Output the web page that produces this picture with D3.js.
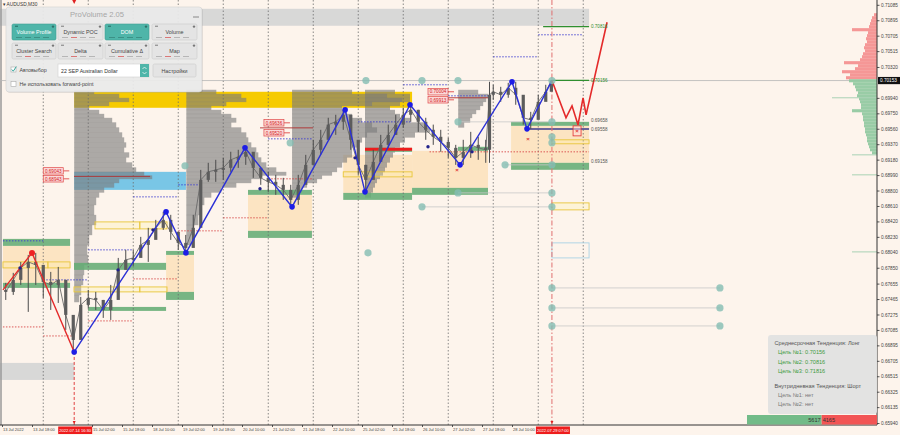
<!DOCTYPE html>
<html><head><meta charset="utf-8">
<script src="https://cdn.jsdelivr.net/npm/d3@7"></script>
<style>
html,body{margin:0;padding:0;background:#FDF4EC;}
svg{display:block;font-family:"Liberation Sans","DejaVu Sans",Arial,sans-serif;}
</style></head><body>
<svg id="c" width="900" height="435"></svg>
<script>
// ================= DATA =================
const symbolTitle = "AUDUSD,M30";
// price bars (hours of trading time since 14 Jul 00:00)
const barHours = [-20,-16,-12,-8,-4,0,4,8,12,16,20,24,28,32,36,40,44,48,52,56,60,64,68,72,76,80,84,88,92,96,100,104,108,112,116,120,124,128,132,136,140,144,148,152,156,160,164,168,172,176,180,184,188,192,196,200,204,208,212,216,220,224,228,232,236,238,240,244,248,252,256,260,264,268,271];
const barClose = [0.67553,0.67701,0.67848,0.67922,0.67885,0.67676,0.67639,0.67701,0.67270,0.66962,0.67393,0.67479,0.67454,0.67331,0.67454,0.67824,0.67947,0.67971,0.68131,0.68193,0.68341,0.68439,0.68291,0.68156,0.68094,0.68341,0.68931,0.69030,0.69054,0.69079,0.69178,0.69215,0.69277,0.69079,0.68956,0.68907,0.68870,0.68808,0.68685,0.68870,0.69116,0.69301,0.69424,0.69611,0.69646,0.69732,0.69424,0.69116,0.68931,0.69153,0.69362,0.69485,0.69611,0.69732,0.69793,0.69646,0.69547,0.69461,0.69398,0.69325,0.69202,0.69276,0.69362,0.69325,0.69301,0.69978,0.70015,0.69978,0.70064,0.69978,0.69695,0.69670,0.69891,0.70015,0.70153];
const barHigh = [0.67664,0.67787,0.67922,0.68008,0.68033,0.67885,0.67799,0.67860,0.67516,0.67233,0.67491,0.67577,0.67553,0.67454,0.67639,0.67971,0.68070,0.68070,0.68230,0.68341,0.68439,0.68538,0.68501,0.68291,0.68254,0.68501,0.69054,0.69141,0.69178,0.69202,0.69277,0.69301,0.69325,0.69239,0.69079,0.69030,0.68993,0.68956,0.68870,0.68993,0.69239,0.69424,0.69547,0.69695,0.69732,0.69793,0.69670,0.69301,0.69116,0.69301,0.69485,0.69611,0.69732,0.69818,0.69855,0.69793,0.69695,0.69611,0.69547,0.69448,0.69362,0.69424,0.69522,0.69461,0.69424,0.70138,0.70101,0.70076,0.70125,0.70138,0.69916,0.69768,0.69978,0.70101,0.70162];
const barLow = [0.67454,0.67516,0.67639,0.67307,0.67639,0.67479,0.67331,0.67417,0.67085,0.66814,0.67024,0.67356,0.67331,0.67233,0.67208,0.67540,0.67848,0.67873,0.68008,0.67922,0.68217,0.68316,0.68193,0.68070,0.68033,0.68131,0.68562,0.68907,0.68907,0.68931,0.69030,0.69079,0.69116,0.68956,0.68870,0.68784,0.68747,0.68685,0.68599,0.68624,0.68907,0.69116,0.69239,0.69424,0.69485,0.69547,0.69301,0.68993,0.68784,0.68956,0.69178,0.69325,0.69485,0.69571,0.69646,0.69522,0.69424,0.69362,0.69277,0.69202,0.69116,0.69116,0.69202,0.69178,0.69141,0.69141,0.69916,0.69891,0.69941,0.69855,0.69611,0.69559,0.69695,0.69916,0.70064];
const firstOpen = 0.67577;
const currentPrice = 0.70153;

// axis ticks
const yTickValues = [0.71085,0.70895,0.70705,0.70515,0.70320,0.69940,0.69750,0.69560,0.69370,0.69180,0.68990,0.68800,0.68610,0.68420,0.68230,0.68040,0.67850,0.67655,0.67465,0.67275,0.67085,0.66895,0.66705,0.66515,0.66325,0.66135,0.65940];
const xTickHours = [-22,-6,26,42,58,74,90,106,122,138,154,170,186,202,218,234,250];
const xTickLabels = ["13 Jul 2022","13 Jul 18:00","15 Jul 02:00","15 Jul 18:00","18 Jul 10:00","19 Jul 02:00","19 Jul 18:00","20 Jul 10:00","21 Jul 02:00","21 Jul 18:00","22 Jul 10:00","25 Jul 02:00","25 Jul 18:00","26 Jul 10:00","27 Jul 02:00","27 Jul 18:00","28 Jul 10:00"];
const timeMarkHours = [16.5, 271.3];
const timeMarkLabels = ["2022.07.14 16:30","2022.07.29 07:00"];
const sessionStarts = [0,24,48,72,96,120,144,168,192,216,240,264,288];

// volume profiles
const profileLevels = [0.70015,0.69965,0.69916,0.69867,0.69818,0.69768,0.69719,0.69670,0.69608,0.69547,0.69485,0.69424,0.69362,0.69301,0.69239,0.69178,0.69116,0.69055,0.69005,0.68968,0.68919,0.68870,0.68808,0.68747,0.68685,0.68562,0.68439,0.68316,0.68193,0.68070,0.67947,0.67824,0.67701,0.67577,0.67454];
const profileStarts = [16.5, 76.3, 132.7, 171.6, 221.3];
const profileVolA = [20,45,55,35,15,25,30,38,42,45,48,50,52,50,55,52,58,62,70,78,45,40,30,25,22,20,22,18,15,13,14,10,9,7,5];
const profileVolB = [30,55,60,40,25,35,45,50,45,55,60,62,65,70,72,75,80,90,100,75,65,50,35,25,18,14,12,8,5,0,0,0,0,0,0];
const profileVolC = [60,95,110,80,50,55,60,70,80,85,75,70,65,60,60,55,50,45,40,30,25,15,10,5,0,0,0,0,0,0,0,0,0,0,0];
const profileVolD = [30,45,45,35,25,30,35,45,60,65,50,40,35,30,28,25,22,20,18,15,12,10,8,6,0,0,0,0,0,0,0,0,0,0,0];
const profileVolE = [20,30,28,25,22,18,14,12,6,0,0,0,0,0,0,0,0,0,0,0,0,0,0,0,0,0,0,0,0,0,0,0,0,0,0];

// zones [h1, h2, priceA, priceB]
const grayBands = [[-23.07,291.1,0.71036,0.70827],[-23.07,16.5,0.66679,0.66470]];
const orangeZones = [[-21.5,14.3,0.68119,0.67664],[65.5,80.4,0.68008,0.67553],[109.2,143.3,0.68747,0.68304],[160,196.7,0.69239,0.68771],[196.7,237.2,0.69288,0.68833],[249.5,291.1,0.69596,0.69141]];
const pocBands = [[16.5,196.7,0.70015,0.69818]];
const valueAreaBands = [[16.5,76.1,0.69030,0.68808]];
const greenBands = [[-21.5,14.3,0.68205,0.68119],[-21.5,14.3,0.67664,0.67602],[16.4,65.5,0.67910,0.67824],[23.9,65.5,0.67368,0.67319],[65.5,80.4,0.68057,0.68008],[65.5,80.4,0.67553,0.67454],[109.2,143.3,0.68808,0.68747],[109.2,143.3,0.68304,0.68217],[160,196.7,0.68771,0.68685],[171.6,196.7,0.69325,0.69276],[196.7,237.2,0.68833,0.68747],[221.2,237.2,0.69338,0.69288],[249.5,291.1,0.69645,0.69596],[249.5,291.1,0.69141,0.69055]];
const yellowBoxes = [[-21.5,2.5,0.67922,0.67848],[2.5,14.3,0.67922,0.67848],[16.4,51.5,0.67614,0.67553],[51.5,66,0.67614,0.67553],[27.6,51.5,0.68414,0.68328],[51.5,66,0.68414,0.68328],[160,196.7,0.69030,0.68968],[271.3,291.1,0.69424,0.69375],[271.3,291.1,0.68648,0.68562]];
const blueBoxes = [[271.3,291.1,0.68156,0.67971]];

// horizontal lines [h1, h2, price]
const blueDotted = [[-21.5,0,0.68181],[0,24,0.67701],[24,48,0.68070],[48,72,0.68722],[72,83.6,0.68870],[119.9,143.3,0.69436],[167.9,196.7,0.69645],[192,216,0.70101],[216,237.2,0.69965],[240,264,0.70445],[264,288,0.70716]];
const redDotted = [[-21.5,0,0.67122],[0,16.4,0.67011],[24,48,0.67196],[48,72,0.67713],[72,96,0.68304],[96,120,0.68464],[120,144,0.68944],[206,291.1,0.69276]];
const redSolid = [[16.4,57,0.68974],[115.6,143.9,0.69571],[215.3,237.2,0.69941]];
const redThick = [[171.6,196.7,0.69307]];
const navyLines = [[258,291.1,0.69558]];
const targetLines = [[266.6,291.1,0.70816],[271.3,291.1,0.70156]];
const levelLabelText = ["0.70816","0.70156","0.69658","0.69558","0.69158"];
const levelLabelPrice = [0.70816,0.70156,0.69658,0.69558,0.69158];
const levelLabelIsTarget = [true,true,false,false,false];
const levelLabelHour = 291.6;
const priceTagHours = [0,0,117.7,117.7,205.2,205.2];
const priceTagPrices = [0.69042,0.68944,0.69633,0.69510,0.70015,0.69916];
const priceTagTexts = ["0.69043","0.68943","0.69636","0.69520","0.70004","0.69913"];

// markers [h, price]
const tealDots = [[75.6,0.69104],[131.7,0.69387],[172.1,0.70153],[202,0.70153],[221.2,0.70153],[271.3,0.70153],[221.2,0.69645],[271.3,0.69645],[271.3,0.69461],[271.3,0.69387],[246.3,0.69116],[271.3,0.69116],[221.2,0.68771],[271.3,0.68771],[202,0.68599],[271.3,0.68599],[173.2,0.68033],[271.3,0.67602],[271.3,0.67356],[271.3,0.67134],[360.9,0.67602],[360.9,0.67356],[360.9,0.67134]];
const linkLines = [[221.2,271.3,0.68771],[202,271.3,0.68599],[246.3,271.3,0.69116],[221.2,271.3,0.69645],[271.3,360.9,0.67602],[271.3,360.9,0.67356],[271.3,360.9,0.67134]];
const redCrosses = [[220.7,0.69055],[258.5,0.69436]];
const redBoxMarks = [[284.7,0.69534]];
const smallBlueDots = [[-12.4,0.67848],[39.9,0.67824],[58.5,0.68316],[115.6,0.68821],[166.3,0.69202],[205.2,0.69338],[228.7,0.69276]];

// zigzags [h, price]
const redZigzagPast = [[-21.5,0.67577],[-6,0.68033],[16.5,0.66814]];
const blueZigzag = [[16.5,0.66814],[65.5,0.68538],[76.1,0.68033],[107.6,0.69325],[132.7,0.68599],[161,0.69793],[171.6,0.68784],[195.6,0.69855],[222.3,0.69116],[250,0.70138],[258,0.69559],[271.3,0.70153]];
const redProjection = [[271.3,0.70153],[278.8,0.69694],[282,0.69842],[285.2,0.69608],[287.9,0.69940],[289.5,0.69731],[300.7,0.70870]];
const nowHour = 271.3, markHour = 16.5, markPrice = 0.66814;

// DOM
const domAskPrices = [0.70962,0.70925,0.70888,0.70852,0.70815,0.70778,0.70741,0.70704,0.70667,0.70630,0.70593,0.70556,0.70519,0.70482,0.70445,0.70408,0.70372,0.70335,0.70298,0.70261,0.70224,0.70187];
const domAskVol = [3,5,6,7,8,25,9,10,11,10,12,13,12,14,15,17,33,19,22,35,27,31];
const domBidPrices = [0.70150,0.70113,0.70076,0.70039,0.70002,0.69965,0.69928,0.69892,0.69855,0.69818,0.69781,0.69744,0.69707,0.69670,0.69633,0.69596,0.69559,0.69522,0.69485,0.69448,0.69411,0.69374,0.69338,0.69301,0.69264];
const domBidVol = [28,24,22,21,19,20,18,17,16,16,25,15,14,14,13,13,12,12,11,10,10,9,8,7,5];
const domFaintPrices = [0.69941,0.69239,0.68993,0.68045];
const domFaintVol = [45,25,25,25];

// info panel
const infoLines = ["Среднесрочная Тенденция: Лонг","Цель №1: 0.70156","Цель №2: 0.70816","Цель №3: 0.71816","Внутридневная Тенденция: Шорт","Цель №1: нет","Цель №2: нет"];
const infoKinds = ["head","ok","ok","ok","head","none","none"];
const buyVolume = 5617, sellVolume = 4165;

// ProVolume panel
const panelTitle = "ProVolume 2.05";
const proButtons = ["Volume Profile","Dynamic POC","DOM","Volume","Cluster Search","Delta","Cumulative Δ","Map"];
const activeButtons = ["Volume Profile","DOM"];
const autoLabel = "Автовыбор", contractLabel = "22 SEP Australian Dollar", settingsLabel = "Настройки", forwardLabel = "Не использовать forward-point";

// ================= DRAW =================
const svg = d3.select('#c');
const PR = 877, PB = 425;
const x = d3.scaleLinear().domain([-23.07, 444.67]).range([0, PR]);
const y = d3.scaleLinear().domain([0.65940, 0.71085]).range([423, 4.8]);
const vol = d3.scaleLinear().domain([0, 100]).range([0, 100]);
const fmt = d3.format('.5f');

svg.append('defs').append('clipPath').attr('id','plot')
  .append('rect').attr('x',0).attr('y',0).attr('width',PR).attr('height',PB);
svg.append('rect').attr('width',900).attr('height',435).attr('fill','#FDF4EC');
const g = svg.append('g').attr('clip-path','url(#plot)');

function zoneRects(data, fill, opacity, stroke, sw) {
  return g.append('g').selectAll('rect').data(data).join('rect')
    .attr('x', d => x(d[0])).attr('y', d => y(Math.max(d[2], d[3])))
    .attr('width', d => x(d[1]) - x(d[0]))
    .attr('height', d => Math.max(1, Math.abs(y(d[2]) - y(d[3]))))
    .attr('fill', fill).attr('opacity', opacity)
    .attr('stroke', stroke || 'none').attr('stroke-width', sw || 0);
}
function hLines(data, color, width, dash) {
  return g.append('g').selectAll('line').data(data).join('line')
    .attr('x1', d => x(d[0])).attr('x2', d => x(d[1]))
    .attr('y1', d => y(d[2])).attr('y2', d => y(d[2]))
    .attr('stroke', color).attr('stroke-width', width)
    .attr('stroke-dasharray', dash || null);
}

zoneRects(grayBands, '#D6D6D6', 0.95);
zoneRects(orangeZones, '#FCE2BE', 0.9);
zoneRects(pocBands, '#F6CB00', 1);
zoneRects(valueAreaBands, '#79C6E6', 1);

// profiles
const profiles = [profileVolA, profileVolB, profileVolC, profileVolD, profileVolE].map((v, k) => ({start: profileStarts[k], vol: v}));
profiles.forEach(pr => {
  const rows = profileLevels.map((p, i) => {
    const yc = y(p);
    const top = i === 0 ? yc - 2 : (y(profileLevels[i-1]) + yc) / 2;
    const bot = i === profileLevels.length - 1 ? yc + 2 : (yc + y(profileLevels[i+1])) / 2;
    return {top, bot, v: pr.vol[i]};
  }).filter(r => r.v > 0);
  g.append('g').selectAll('rect').data(rows).join('rect')
    .attr('x', x(pr.start)).attr('y', d => d.top)
    .attr('width', d => vol(d.v)).attr('height', d => d.bot - d.top + 0.3)
    .attr('fill', '#7b7b7b').attr('opacity', 0.62);
});

zoneRects(greenBands, '#64AC74', 0.88);

// session separators
g.append('g').selectAll('line').data(sessionStarts).join('line')
  .attr('x1', d => x(d)).attr('x2', d => x(d)).attr('y1', 0).attr('y2', PB)
  .attr('stroke', '#6d6d6d').attr('stroke-width', 0.8).attr('stroke-dasharray', '1.5,2');
g.append('line').attr('x1',1).attr('x2',1).attr('y1',0).attr('y2',PB).attr('stroke','#9a9a9a').attr('stroke-width',1.5);

zoneRects(yellowBoxes, 'rgba(255,240,150,0.25)', 1, '#E8C63A', 0.9);
zoneRects(blueBoxes, 'none', 1, '#A9D3E6', 0.9);

hLines(linkLines, '#c8c8c8', 0.8);
// current price line
g.append('line').attr('x1',0).attr('x2',PR).attr('y1',y(currentPrice)).attr('y2',y(currentPrice))
  .attr('stroke','#b5b5b5').attr('stroke-width',0.8);
hLines(blueDotted, '#3b3bd0', 0.9, '1.5,1.5');
hLines(redDotted, '#d84848', 0.9, '1.5,1.5');
hLines(redSolid, '#b03030', 0.9);
hLines(redThick, '#ee1c1c', 3);
hLines(navyLines, '#3a3a8c', 1.5);
hLines(targetLines, '#2f8f2f', 1.2);

// vertical markers
g.append('line').attr('x1', x(nowHour)).attr('x2', x(nowHour)).attr('y1', 0).attr('y2', PB)
  .attr('stroke', '#e07070').attr('stroke-width', 1).attr('stroke-dasharray', '5,2,1.5,2');
g.append('line').attr('x1', x(markHour)).attr('x2', x(markHour)).attr('y1', y(markPrice)).attr('y2', PB)
  .attr('stroke', '#e04040').attr('stroke-width', 1).attr('stroke-dasharray', '3,2');

// price bars
const bars = barHours.map((h, i) => ({h, o: i ? barClose[i-1] : firstOpen, c: barClose[i], hi: barHigh[i], lo: barLow[i]}));
const gp = g.append('g');
gp.append('path').datum(bars)
  .attr('d', d3.line().x(d => x(d.h)).y(d => y(d.c)))
  .attr('fill','none').attr('stroke','#6a6a6a').attr('stroke-width',0.9);
gp.selectAll('line').data(bars).join('line')
  .attr('x1', d => x(d.h)).attr('x2', d => x(d.h))
  .attr('y1', d => y(d.hi)).attr('y2', d => y(d.lo))
  .attr('stroke', '#4b4b4b').attr('stroke-width', 1);
gp.selectAll('rect').data(bars).join('rect')
  .attr('x', d => x(d.h) - 1.6).attr('width', 3.2)
  .attr('y', d => y(Math.max(d.o, d.c))).attr('height', d => Math.max(1, Math.abs(y(d.o) - y(d.c))))
  .attr('fill', '#5c5c5c');

// zigzags
const zz = d3.line().x(d => x(d[0])).y(d => y(d[1]));
g.append('path').attr('d', zz(redZigzagPast)).attr('fill','none').attr('stroke','#e42a2a').attr('stroke-width',1.4);
g.append('path').attr('d', zz(blueZigzag)).attr('fill','none').attr('stroke','#2b30d6').attr('stroke-width',1.4);
g.append('path').attr('d', zz(redProjection)).attr('fill','none').attr('stroke','#e42a2a').attr('stroke-width',1.6);
g.append('circle').attr('cx', x(redZigzagPast[1][0])).attr('cy', y(redZigzagPast[1][1])).attr('r', 3).attr('fill', '#ee2222');
g.append('g').selectAll('circle').data(blueZigzag.slice(0, -1)).join('circle')
  .attr('cx', d => x(d[0])).attr('cy', d => y(d[1])).attr('r', 2.8).attr('fill', '#1d1de6');
g.append('g').selectAll('circle').data(smallBlueDots).join('circle')
  .attr('cx', d => x(d[0])).attr('cy', d => y(d[1])).attr('r', 1.7).attr('fill', '#22228a');

// teal dots
g.append('g').selectAll('circle').data(tealDots).join('circle')
  .attr('cx', d => x(d[0])).attr('cy', d => y(d[1])).attr('r', 3.6)
  .attr('fill', '#83bdb3').attr('opacity', 0.8);

// red crosses / boxes
const gc = g.append('g');
redCrosses.forEach(d => {
  gc.append('text').attr('x', x(d[0])).attr('y', y(d[1]) + 2).attr('text-anchor','middle')
    .attr('font-size', 6).attr('fill', '#e03030').attr('font-weight','bold').text('×');
});
redBoxMarks.forEach(d => {
  gc.append('rect').attr('x', x(d[0]) - 4).attr('y', y(d[1]) - 5).attr('width', 8).attr('height', 10)
    .attr('fill', 'rgba(255,220,220,0.5)').attr('stroke', '#e03030').attr('stroke-width', 0.8);
  gc.append('text').attr('x', x(d[0])).attr('y', y(d[1]) + 2).attr('text-anchor','middle')
    .attr('font-size', 6).attr('fill', '#e03030').attr('font-weight','bold').text('×');
});

// price tags
const gt = g.append('g');
priceTagTexts.forEach((t, i) => {
  const px = x(priceTagHours[i]), py = y(priceTagPrices[i]);
  gt.append('line').attr('x1', px + 20).attr('x2', px + 26).attr('y1', py).attr('y2', py).attr('stroke','#e04848').attr('stroke-width',0.9);
  gt.append('rect').attr('x', px).attr('y', py - 3.2).attr('width', 20).attr('height', 6.4)
    .attr('fill', '#fbd9d9').attr('stroke', '#e04848').attr('stroke-width', 0.7);
  gt.append('text').attr('x', px + 10).attr('y', py + 1.7).attr('text-anchor','middle')
    .attr('font-size', 4.6).attr('fill', '#d42020').text(t);
});

// level labels
levelLabelText.forEach((t, i) => {
  g.append('text').attr('x', x(levelLabelHour) + 1).attr('y', y(levelLabelPrice[i]) + 1.6)
    .attr('font-size', 4.6).attr('fill', levelLabelIsTarget[i] ? '#2e8b2e' : '#555').text(t);
});

// DOM histogram
const gd = svg.append('g');
const domBar = (prices, vols, color, op) => gd.append('g').selectAll('rect').data(prices.map((p, i) => [p, vols[i]])).join('rect')
  .attr('x', d => PR - vol(d[1])).attr('width', d => vol(d[1]))
  .attr('y', d => y(d[0]) - 1.6).attr('height', 3.1)
  .attr('fill', color).attr('opacity', op);
domBar(domAskPrices, domAskVol, '#f49191', 0.95);
domBar(domBidPrices, domBidVol, '#94c9a2', 0.95);
gd.append('g').selectAll('line').data(domFaintPrices.map((p, i) => [p, domFaintVol[i]])).join('line')
  .attr('x1', d => PR - vol(d[1])).attr('x2', PR).attr('y1', d => y(d[0])).attr('y2', d => y(d[0]))
  .attr('stroke', '#a9d2b4').attr('stroke-width', 1);

// axes
const yAx = svg.append('g').attr('transform', `translate(${PR},0)`)
  .call(d3.axisRight(y).tickValues(yTickValues).tickFormat(fmt).tickSize(2.5));
yAx.select('.domain').remove();
yAx.selectAll('line').attr('stroke', '#555');
yAx.selectAll('text').attr('font-size', 4.7).attr('fill', '#444').attr('x', 4)
  .attr('font-family', '"Liberation Sans",Arial,sans-serif');
svg.append('line').attr('x1', PR).attr('x2', PR).attr('y1', 0).attr('y2', PB).attr('stroke', '#333').attr('stroke-width', 1);

const xAx = svg.append('g').attr('transform', `translate(0,${PB})`)
  .call(d3.axisBottom(x).tickValues(xTickHours).tickFormat((d, i) => xTickLabels[i]).tickSize(2));
xAx.select('.domain').remove();
xAx.selectAll('line').attr('stroke', '#555');
xAx.selectAll('text').attr('font-size', 4.0).attr('fill', '#444').attr('text-anchor', 'start')
  .attr('dx', 0.5).attr('y', 3).attr('font-family', '"Liberation Sans",Arial,sans-serif');
svg.append('line').attr('x1', 0).attr('x2', PR).attr('y1', PB).attr('y2', PB).attr('stroke', '#333').attr('stroke-width', 1);

// time marks on axis
timeMarkHours.forEach((h, i) => {
  svg.append('rect').attr('x', x(h) - 16).attr('y', 426.5).attr('width', 34).attr('height', 7.5).attr('fill', '#ee1c1c');
  svg.append('text').attr('x', x(h) + 1).attr('y', 432).attr('text-anchor', 'middle').attr('font-size', 4.1).attr('fill', '#fff').text(timeMarkLabels[i]);
  svg.append('path').attr('d', `M${x(h)-1.5},${PB-4}L${x(h)+1.5},${PB-4}L${x(h)},${PB-1}Z`).attr('fill', '#e02020');
});
svg.append('path').attr('d', `M${x(markHour)-2},0L${x(markHour)+2},0L${x(markHour)},4Z`).attr('fill', '#e02020');

// current price box
svg.append('rect').attr('x', PR + 1).attr('y', y(currentPrice) - 3.6).attr('width', 22).attr('height', 7.2).attr('fill', '#111');
svg.append('text').attr('x', PR + 3).attr('y', y(currentPrice) + 1.7).attr('font-size', 4.7).attr('fill', '#fff').text(fmt(currentPrice));

// symbol title
svg.append('text').attr('x', 3).attr('y', 5.5).attr('font-size', 4.8).attr('fill', '#333').text('▾ ' + symbolTitle);

// info panel
const ip = svg.append('g');
ip.append('rect').attr('x', 768).attr('y', 335).attr('width', 109).attr('height', 79).attr('rx', 3)
  .attr('fill', '#e2e2e2').attr('opacity', 0.95);
const infoY = [345, 354.3, 363.6, 373, 387.5, 396.8, 406];
infoLines.forEach((t, i) => {
  const k = infoKinds[i];
  ip.append('text').attr('x', k === 'head' ? 774.5 : 778).attr('y', infoY[i]).attr('font-size', 5.6)
    .attr('fill', k === 'ok' ? '#3e9a3e' : (k === 'head' ? '#555' : '#7a7a7a')).text(t);
});
const bal = d3.scaleLinear().domain([0, buyVolume + sellVolume]).range([747, PR]);
ip.append('rect').attr('x', bal(0)).attr('y', 415).attr('width', bal(buyVolume) - bal(0)).attr('height', 9.5).attr('fill', '#72bb88');
ip.append('rect').attr('x', bal(buyVolume)).attr('y', 415).attr('width', bal(buyVolume + sellVolume) - bal(buyVolume)).attr('height', 9.5).attr('fill', '#f25555');
ip.append('text').attr('x', bal(buyVolume) - 1).attr('y', 422).attr('text-anchor', 'end').attr('font-size', 5.6).attr('fill', '#333').text(buyVolume);
ip.append('text').attr('x', bal(buyVolume) + 1).attr('y', 422).attr('font-size', 5.6).attr('fill', '#333').text(sellVolume);

// ProVolume panel
const pv = svg.append('g');
pv.append('rect').attr('x', 7).attr('y', 8).attr('width', 196).attr('height', 85).attr('rx', 3).attr('fill', '#000').attr('opacity', 0.08);
pv.append('rect').attr('x', 6).attr('y', 7).attr('width', 196).attr('height', 85).attr('rx', 3)
  .attr('fill', '#ececec').attr('opacity', 0.93).attr('stroke', '#d0d0d0').attr('stroke-width', 0.6);
pv.append('text').attr('x', 97).attr('y', 17).attr('text-anchor', 'middle').attr('font-size', 7.6).attr('fill', '#a6a6a6').text(panelTitle);
pv.append('line').attr('x1', 193).attr('x2', 199).attr('y1', 17).attr('y2', 17).attr('stroke', '#888').attr('stroke-width', 1);
const colX = [12, 58, 105, 152], colW = [44, 45, 44, 45], rowY = [24, 43];
proButtons.forEach((b, i) => {
  const cx = colX[i % 4], cy = rowY[Math.floor(i / 4)], w = colW[i % 4];
  const act = activeButtons.includes(b);
  pv.append('rect').attr('x', cx).attr('y', cy).attr('width', w).attr('height', 16).attr('rx', 1.5)
    .attr('fill', act ? '#4fb5a9' : '#e4e4e4').attr('stroke', act ? '#3f9f94' : '#cbcbcb').attr('stroke-width', 0.6);
  pv.append('circle').attr('cx', cx + w - 3).attr('cy', cy + 2.6).attr('r', 1.2).attr('fill', act ? '#2f6f68' : '#777');
  pv.append('rect').attr('x', cx + 3).attr('y', cy + 1.6).attr('width', 3).attr('height', 1.4).attr('fill', act ? '#2f7f76' : '#999');
  pv.append('text').attr('x', cx + w / 2).attr('y', cy + 9.8).attr('text-anchor', 'middle').attr('font-size', 5.4)
    .attr('fill', act ? '#fff' : '#444').text(b);
  for (let k = 0; k < 4; k++) {
    pv.append('rect').attr('x', cx + 4 + k * 9).attr('y', cy + 13).attr('width', 6).attr('height', 0.9)
      .attr('fill', act ? '#3a8c83' : (k === 1 ? '#d86a6a' : '#b0b0b0'));
  }
});
// checkbox auto
pv.append('rect').attr('x', 11).attr('y', 67).attr('width', 5).attr('height', 5).attr('fill', '#fff').attr('stroke', '#aaa').attr('stroke-width', 0.6);
pv.append('path').attr('d', 'M11.8,69.5L13.3,71.2L16.3,66.6').attr('fill', 'none').attr('stroke', '#2fa59a').attr('stroke-width', 1);
pv.append('text').attr('x', 19.5).attr('y', 71.8).attr('font-size', 5.3).attr('fill', '#444').text(autoLabel);
// dropdown
pv.append('rect').attr('x', 58).attr('y', 64).attr('width', 91).attr('height', 13).attr('fill', '#fff').attr('stroke', '#cfcfcf').attr('stroke-width', 0.6);
pv.append('rect').attr('x', 140).attr('y', 64).attr('width', 9).attr('height', 13).attr('fill', '#4fb5a9');
pv.append('path').attr('d', 'M142.5,69L144.5,67L146.5,69M142.5,72L144.5,74L146.5,72').attr('fill', 'none').attr('stroke', '#fff').attr('stroke-width', 0.7);
pv.append('text').attr('x', 61).attr('y', 72.5).attr('font-size', 5.2).attr('fill', '#333').text(contractLabel);
// settings
pv.append('rect').attr('x', 153).attr('y', 64).attr('width', 43).attr('height', 13).attr('rx', 1.5).attr('fill', '#e4e4e4').attr('stroke', '#cbcbcb').attr('stroke-width', 0.6);
pv.append('text').attr('x', 174.5).attr('y', 72.5).attr('text-anchor', 'middle').attr('font-size', 5.3).attr('fill', '#444').text(settingsLabel);
// checkbox forward
pv.append('rect').attr('x', 11).attr('y', 81.5).attr('width', 5).attr('height', 5).attr('fill', '#fff').attr('stroke', '#aaa').attr('stroke-width', 0.6);
pv.append('text').attr('x', 19.5).attr('y', 86.2).attr('font-size', 5.3).attr('fill', '#444').text(forwardLabel);
</script>
</body></html>
